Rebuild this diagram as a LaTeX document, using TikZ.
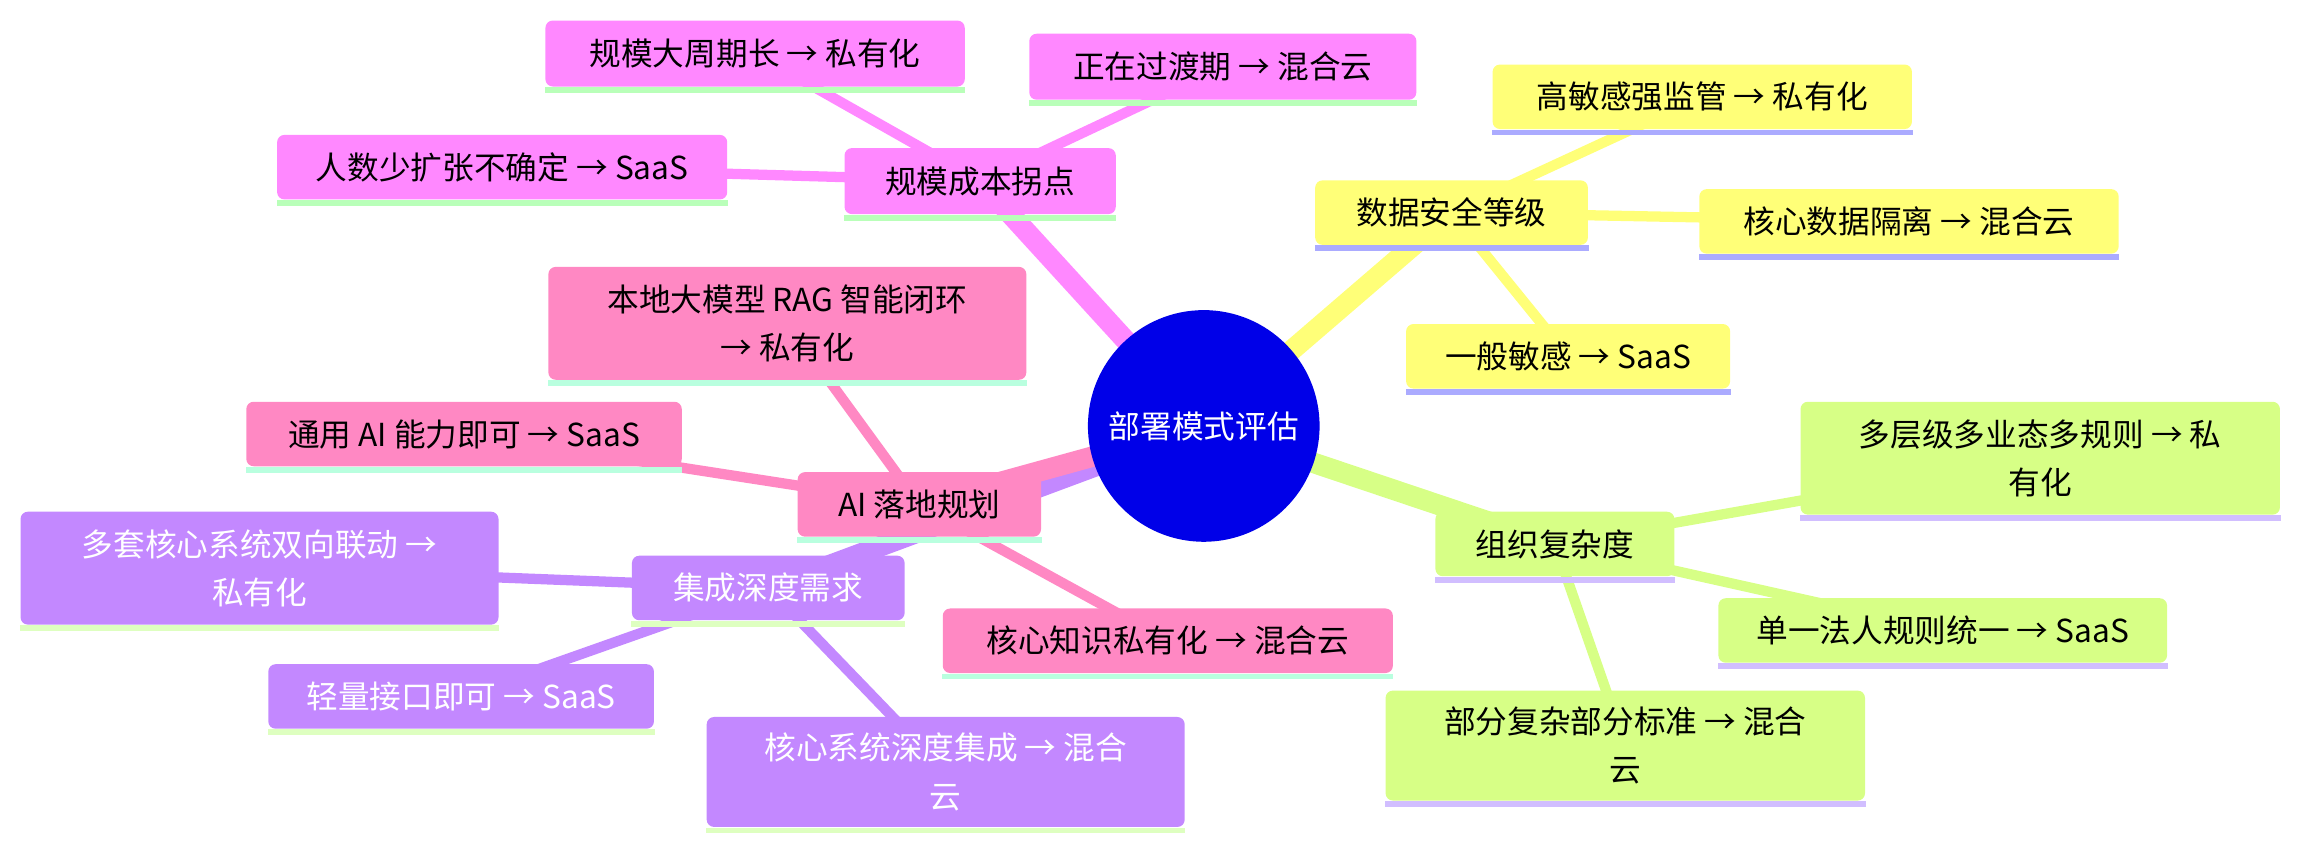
\documentclass[tikz,border=0pt]{standalone}
\usepackage{fontspec}
\setmainfont{Noto Sans CJK SC}
\usetikzlibrary{calc}
\pgfdeclarelayer{bg}
\pgfsetlayers{bg,main}
\definecolor{cA}{HTML}{FF88FF}\definecolor{uA}{HTML}{B9FFB9}
\definecolor{cB}{HTML}{FFFF78}\definecolor{uB}{HTML}{ABABFF}
\definecolor{cC}{HTML}{D7FF86}\definecolor{uC}{HTML}{D1BEFF}
\definecolor{cD}{HTML}{FF88C3}\definecolor{uD}{HTML}{B9FFDF}
\definecolor{cE}{HTML}{C388FF}\definecolor{uE}{HTML}{DEFFC0}
\definecolor{rootblue}{HTML}{0000E8}
\begin{document}
\begin{tikzpicture}[x=0.5pt,y=-0.5pt,
  box/.style 2 args={rectangle, rounded corners=2.5pt, inner sep=0pt, align=center,
    minimum width=#1*0.5pt, minimum height=#2*0.5pt,
    font=\fontsize{10.8}{16.5}\selectfont},
  secA/.style={fill=cA},
  secB/.style={fill=cB},
  secC/.style={fill=cC},
  secD/.style={fill=cD},
  secE/.style={fill=cE, text=white},
  rootnode/.style={circle, fill=rootblue, text=white, inner sep=0pt,
    minimum size=158*0.5pt, font=\fontsize{10.8}{13}\selectfont},
  redge/.style={line width=7pt},
  cedge/.style={line width=3.5pt}
]
\useasboundingbox (0,0) rectangle (1568,580.4);

% root
\node[rootnode] (root) at (821,290.5) {部署模式评估};

% section A
\node[box={185}{45},secA] (sA) at (668.5,123.5) {规模成本拐点};
\node[box={286}{45},secA] (A1) at (515,36.5) {规模大周期长 → 私有化};
\node[box={264}{45},secA] (A2) at (834,45.5) {正在过渡期 → 混合云};
\node[box={307}{44},secA] (A3) at (342.5,114) {人数少扩张不确定 → SaaS};

% section B
\node[box={186}{44},secB] (B) at (990,145) {数据安全等级};
\node[box={286}{44},secB] (B1) at (1161,66) {高敏感强监管 → 私有化};
\node[box={286}{44},secB] (B2) at (1302,151) {核心数据隔离 → 混合云};
\node[box={221}{44},secB] (B3) at (1069.5,243) {一般敏感 → SaaS};

% section C
\node[box={163}{44},secC] (C) at (1060.5,371) {组织复杂度};
\node[box={327}{77},secC] (C1) at (1391.5,312.5) {多层级多业态多规则 → 私\\有化};
\node[box={306}{44},secC] (C2) at (1325,430) {单一法人规则统一 → SaaS};
\node[box={327}{75},secC] (C3) at (1108.5,508.5) {部分复杂部分标准 → 混合\\云};

% section D
\node[box={166}{44},secD] (D) at (627,344) {AI 落地规划};
\node[box={326}{77},secD] (D1) at (537,220.5) {本地大模型 RAG 智能闭环\\→ 私有化};
\node[box={297}{44},secD] (D2) at (316.5,296) {通用 AI 能力即可 → SaaS};
\node[box={307}{44},secD] (D3) at (796.5,437) {核心知识私有化 → 混合云};

% section E
\node[box={186}{44},secE] (E) at (524,401) {集成深度需求};
\node[box={326}{77},secE] (E1) at (177,387.5) {多套核心系统双向联动 →\\私有化};
\node[box={263}{44},secE] (E2) at (314.5,475) {轻量接口即可 → SaaS};
\node[box={326}{75},secE] (E3) at (645,526.5) {核心系统深度集成 → 混合\\云};

% underline strips
\foreach \n/\c in {sA/uA,A1/uA,A2/uA,A3/uA,B/uB,B1/uB,B2/uB,B3/uB,
                   C/uC,C1/uC,C2/uC,C3/uC,D/uD,D1/uD,D2/uD,D3/uD,
                   E/uE,E1/uE,E2/uE,E3/uE}
  \fill[\c] (\n.south west) rectangle ([yshift=-2pt]\n.south east);

\begin{pgfonlayer}{bg}
  \draw[redge,cE] (root.center) -- (E.center);
  \draw[redge,cD] (root.center) -- (D.center);
  \draw[redge,cA] (root.center) -- (sA.center);
  \draw[redge,cB] (root.center) -- (B.center);
  \draw[redge,cC] (root.center) -- (C.center);
  \foreach \c in {A1,A2,A3} \draw[cedge,cA] (sA.center) -- (\c.center);
  \foreach \c in {B1,B2,B3} \draw[cedge,cB] (B.center) -- (\c.center);
  \foreach \c in {C1,C2,C3} \draw[cedge,cC] (C.center) -- (\c.center);
  \foreach \c in {D1,D2,D3} \draw[cedge,cD] (D.center) -- (\c.center);
  \foreach \c in {E1,E2,E3} \draw[cedge,cE] (E.center) -- (\c.center);
\end{pgfonlayer}
\end{tikzpicture}
\end{document}
